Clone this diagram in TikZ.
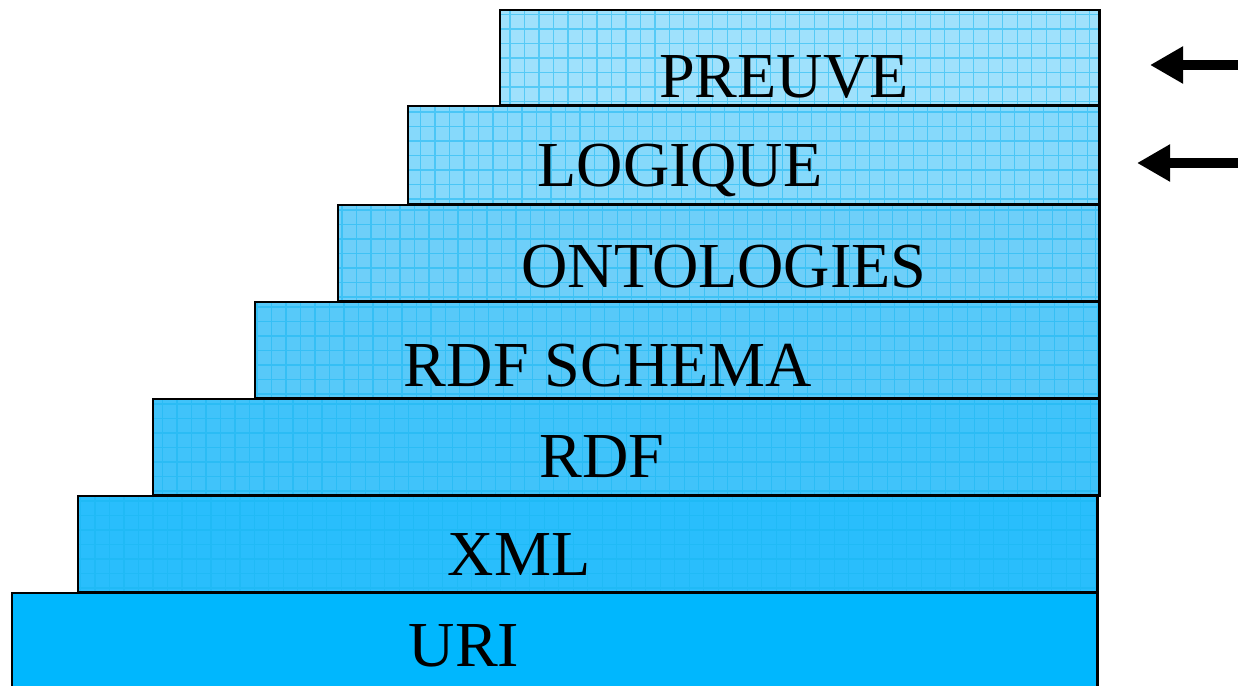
\documentclass[tikz,border=0pt]{standalone}
\usepackage{fontspec}
\setmainfont{Liberation Serif}
\usepackage{tikz}
\usetikzlibrary{arrows.meta}
\definecolor{preuveblue}{HTML}{9FE1FC}
\definecolor{logiqueblue}{HTML}{86D9FB}
\definecolor{ontoblue}{HTML}{6ECFF9}
\definecolor{schemablue}{HTML}{57C9F9}
\definecolor{rdfblue}{HTML}{40C3FA}
\definecolor{xmlblue}{HTML}{29BEFC}
\definecolor{uriblue}{HTML}{00B7FE}
\definecolor{gridblue}{HTML}{1AB8F2}
\tikzstyle{layer} = [rectangle, anchor=north west, inner sep=0pt, outer sep=0pt, draw=black, line width=1.7pt]
\tikzstyle{gridded} = [path picture={\draw[gridblue, opacity=0.55, line width=0.6pt] (path picture bounding box.south west) grid[step=0.29cm] (path picture bounding box.north east);}]
\tikzstyle{layertext} = [anchor=base, inner sep=0pt, font=\fontsize{36.5}{40}\selectfont]
\tikzstyle{pointer} = [line width=6pt, -{Triangle[length=0.66cm, width=0.70cm]}]

\begin{document}
\begin{tikzpicture}[x=0.02cm, y=-0.02cm]
        \useasboundingbox (0,0) rectangle (1238,686);

        % layers, top to bottom
        \node[layer, gridded, fill=preuveblue,  minimum width=12cm,    minimum height=1.92cm] (preuve)   at (500,10)  {};
        \node[layer, gridded, fill=logiqueblue, minimum width=13.84cm, minimum height=1.98cm] (logique)  at (408,106) {};
        \node[layer, gridded, fill=ontoblue,    minimum width=15.24cm, minimum height=1.94cm] (onto)     at (338,205) {};
        \node[layer, gridded, fill=schemablue,  minimum width=16.9cm,  minimum height=1.94cm] (schema)   at (255,302) {};
        \node[layer, gridded, fill=rdfblue,     minimum width=18.94cm, minimum height=1.94cm] (rdf)      at (153,399) {};
        \node[layer, gridded, fill=xmlblue,     minimum width=20.4cm,  minimum height=1.94cm] (xml)      at (78,496)  {};
        \node[layer,          fill=uriblue,     minimum width=21.72cm, minimum height=2cm]    (uri)      at (12,593)  {};

        \node[layertext] (preuve text)  at (784,98)  {PREUVE};
        \node[layertext] (logique text) at (680,187) {LOGIQUE};
        \node[layertext] (onto text)    at (724,287) {ONTOLOGIES};
        \node[layertext] (schema text)  at (608,386) {RDF SCHEMA};
        \node[layertext] (rdf text)     at (602,477) {RDF};
        \node[layertext] (xml text)     at (519,575) {XML};
        \node[layertext] (uri text)     at (464,666) {URI};

        % arrows on the right
        \coordinate (preuve tail)  at (1238,65);
        \coordinate (preuve tip)   at (1150,65);
        \coordinate (logique tail) at (1238,163);
        \coordinate (logique tip)  at (1137,163);

        \draw[pointer] (preuve tail)  -- (preuve tip);
        \draw[pointer] (logique tail) -- (logique tip);
    \end{tikzpicture}
\end{document}
